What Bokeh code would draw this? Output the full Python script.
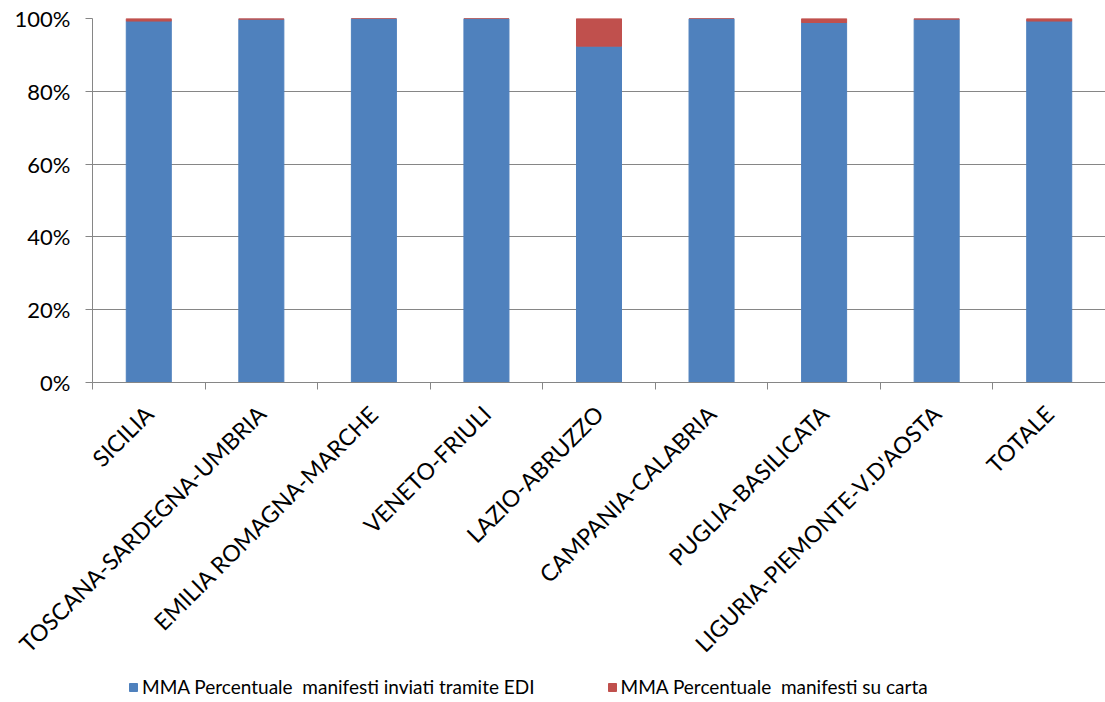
import math
from bokeh.plotting import figure
from bokeh.layouts import column
from bokeh.models import (ColumnDataSource, Range1d, FixedTicker, NumeralTickFormatter,
                          Legend, LegendItem, Label)
from bokeh.embed import file_html
from bokeh.resources import INLINE

title_text = "MMA ottobre 2013"
categories = ["SICILIA", "TOSCANA-SARDEGNA-UMBRIA", "EMILIA ROMAGNA-MARCHE", "VENETO-FRIULI",
              "LAZIO-ABRUZZO", "CAMPANIA-CALABRIA", "PUGLIA-BASILICATA",
              "LIGURIA-PIEMONTE-V.D'AOSTA", "TOTALE"]
edi = [0.993, 0.998, 1.0, 1.0, 0.924, 1.0, 0.989, 0.998, 0.993]
carta = [0.007, 0.002, 0.0, 0.0, 0.076, 0.0, 0.011, 0.002, 0.007]
series_names = ["MMA Percentuale  manifesti inviati tramite EDI",
                "MMA Percentuale  manifesti su carta"]
y_ticks = [0, 0.2, 0.4, 0.6, 0.8, 1.0]

BLUE = "#4F81BD"
RED = "#C0504D"
GRID = "#868686"
FONT = "Lato"

n = len(categories)
centers = [i + 0.5 for i in range(n)]
source = ColumnDataSource(dict(x=centers, cat=categories, edi=edi, carta=carta))

p = figure(x_range=Range1d(0, n), y_range=Range1d(0, 1),
           width=1105, height=702, output_backend="svg", toolbar_location=None,
           min_border_left=92, min_border_right=0,
           min_border_top=48, min_border_bottom=290)
p.outline_line_color = None
p.background_fill_color = "white"

rs = p.vbar_stack(["edi", "carta"], x="x", width=0.4, color=[BLUE, RED], source=source)

xa = p.xaxis[0]
xa.ticker = FixedTicker(ticks=centers, minor_ticks=list(range(n + 1)))
xa.major_label_overrides = {c: lab for c, lab in zip(centers, categories)}
xa.axis_line_color = GRID
xa.major_tick_line_color = None
xa.major_tick_out = 0
xa.major_tick_in = 0
xa.minor_tick_line_color = GRID
xa.minor_tick_out = 7
xa.minor_tick_in = 0
xa.major_label_orientation = math.pi / 4
xa.major_label_text_font = FONT
xa.major_label_text_font_size = "23px"
xa.major_label_text_color = "black"
xa.major_label_standoff = 20

p.yaxis.ticker = FixedTicker(ticks=y_ticks)
p.yaxis.formatter = NumeralTickFormatter(format="0%")
p.yaxis.axis_line_color = GRID
p.yaxis.major_tick_line_color = GRID
p.yaxis.major_tick_out = 7
p.yaxis.major_tick_in = 0
p.yaxis.minor_tick_line_color = None
p.yaxis.major_label_text_font = FONT
p.yaxis.major_label_text_font_size = "22px"
p.yaxis.major_label_text_color = "black"
p.yaxis.major_label_standoff = 15

p.xgrid.visible = False
p.ygrid.grid_line_color = GRID
p.ygrid.grid_line_width = 1

title = Label(x=453, y=384, x_units="screen", y_units="screen", text=title_text,
              text_font=FONT, text_font_style="bold", text_font_size="44px",
              text_align="center", text_baseline="alphabetic", text_color="black")
p.add_layout(title)

# legend strip below the chart (its own glyphs lie outside its view, only the legend shows)
lf = figure(x_range=Range1d(-3, -2), y_range=Range1d(0, 1), width=1105, height=40,
            output_backend="svg", toolbar_location=None,
            x_axis_location=None, y_axis_location=None,
            min_border_left=0, min_border_right=0, min_border_top=0, min_border_bottom=0)
lf.outline_line_color = None
lf.xgrid.visible = False
lf.ygrid.visible = False
g_edi = lf.vbar(x="x", top="edi", width=0.4, color=BLUE, source=source)
g_carta = lf.vbar(x="x", top="carta", width=0.4, color=RED, source=source)

legend = Legend(items=[LegendItem(label=series_names[0], renderers=[g_edi]),
                       LegendItem(label=series_names[1], renderers=[g_carta])],
                orientation="horizontal", location=(36, 14))
legend.padding = 0
legend.margin = 0
legend.spacing = 72
legend.label_standoff = 4
legend.glyph_width = 10
legend.glyph_height = 10
legend.label_text_font = FONT
legend.label_text_font_size = "19px"
legend.label_text_color = "black"
legend.border_line_color = None
legend.background_fill_alpha = 0
lf.add_layout(legend, "center")

layout = column(p, lf, spacing=0)
layout.styles = {"margin-top": "-30px", "margin-bottom": "-30px"}

open("out.html", "w").write(file_html(layout, INLINE))
